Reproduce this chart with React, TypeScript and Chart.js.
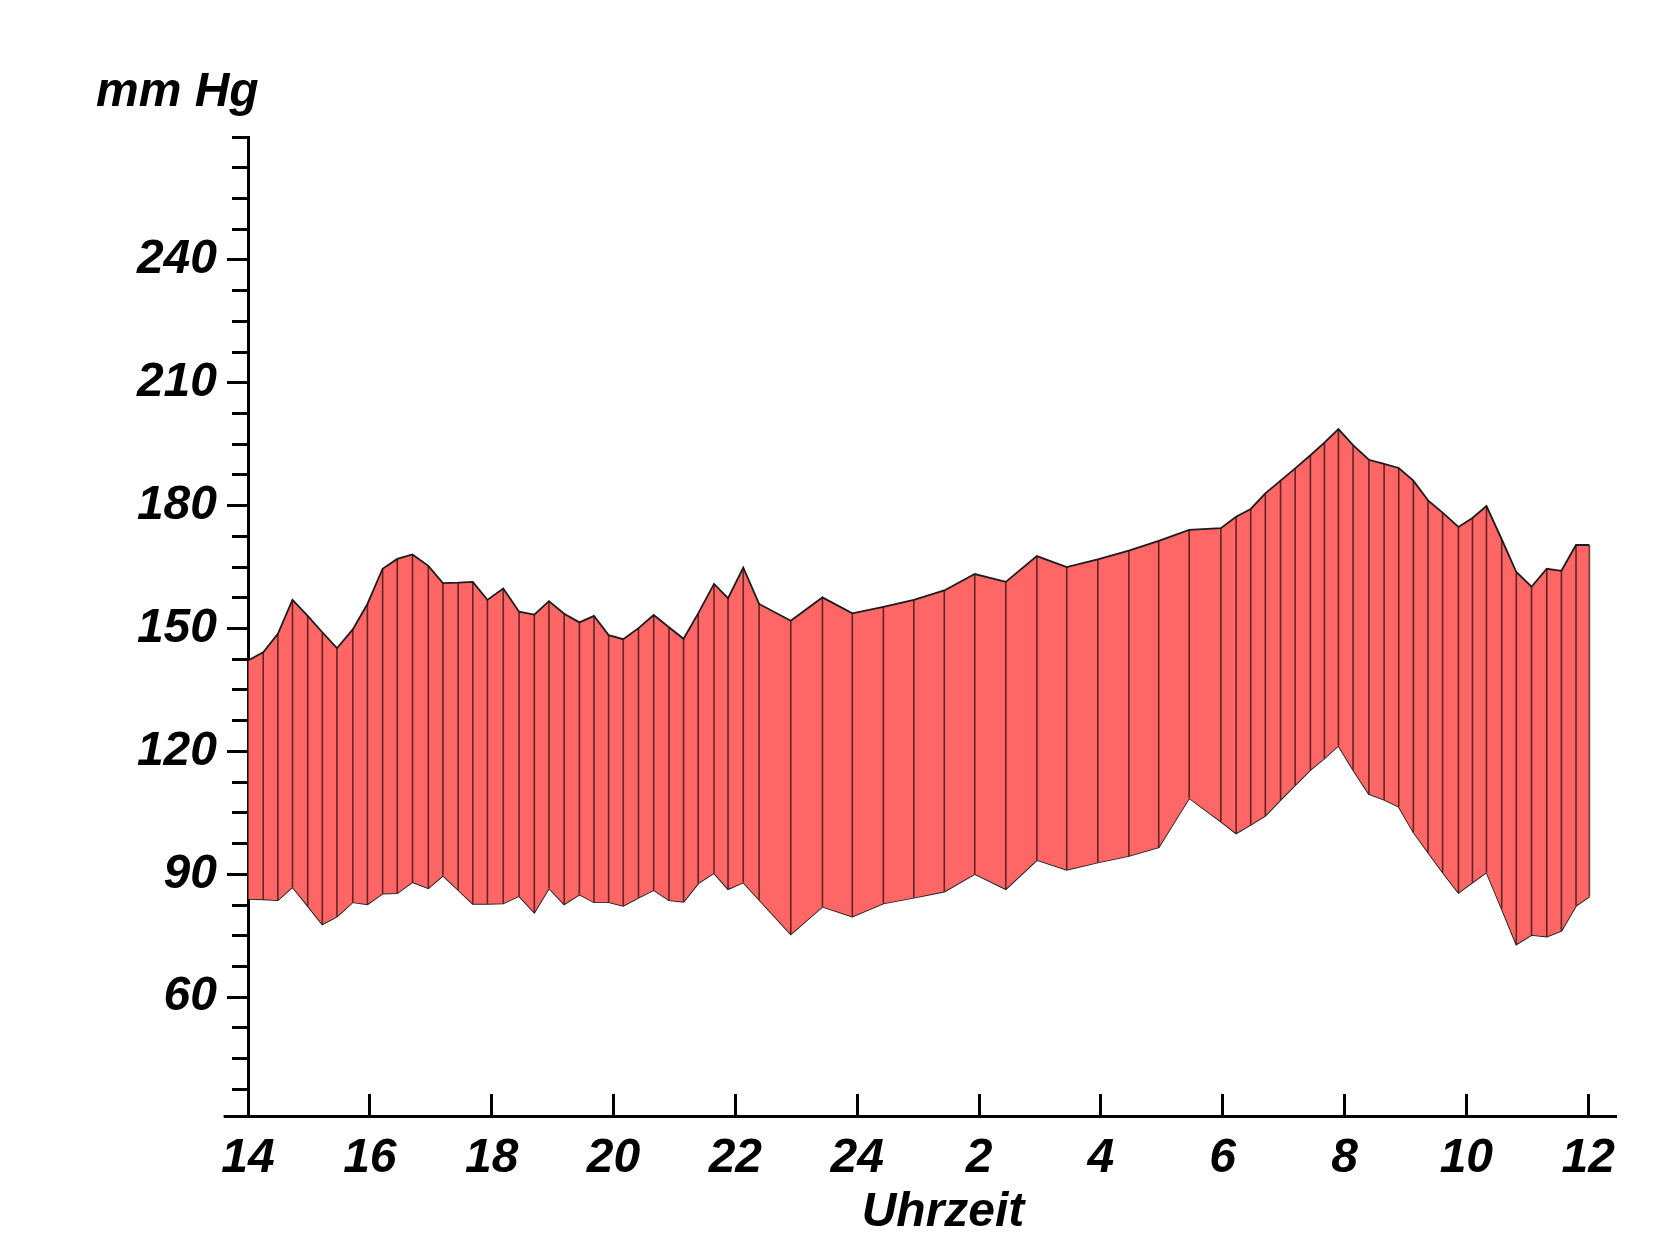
import React, { useEffect, useRef } from 'react';
import { Chart, registerables } from 'chart.js';

Chart.register(...registerables);

// Measurement times (hours since 0:00 of day 1; 24+ = next day)
const times = [
  14.0, 14.25, 14.49, 14.73, 14.98, 15.22, 15.46, 15.72, 15.96, 16.21,
  16.45, 16.7, 16.96, 17.2, 17.45, 17.69, 17.93, 18.19, 18.45, 18.7,
  18.94, 19.19, 19.44, 19.68, 19.92, 20.16, 20.41, 20.66, 20.91, 21.15,
  21.39, 21.65, 21.88, 22.13, 22.39, 22.91, 23.43, 23.92, 24.43, 24.93,
  25.43, 25.93, 26.44, 26.95, 27.44, 27.95, 28.46, 28.95, 29.45, 29.97,
  30.22, 30.46, 30.7, 30.95, 31.19, 31.44, 31.67, 31.9, 32.14, 32.4,
  32.65, 32.89, 33.13, 33.37, 33.61, 33.87, 34.1, 34.33, 34.58, 34.82,
  35.07, 35.32, 35.56, 35.8, 36.02,
];

// Systolic (upper boundary)
const systolic = [
  142.2, 144.2, 148.7, 157.0, 153.1, 149.1, 145.2, 149.8, 156.0, 164.6,
  167.0, 168.1, 165.3, 161.1, 161.2, 161.4, 157.0, 159.8, 154.1, 153.4,
  156.7, 153.6, 151.5, 153.1, 148.4, 147.4, 150.1, 153.3, 150.3, 147.5,
  153.7, 160.9, 157.4, 164.9, 156.0, 151.9, 157.6, 153.7, 155.3, 157.0,
  159.3, 163.3, 161.4, 167.7, 165.0, 166.9, 169.0, 171.4, 174.1, 174.5,
  177.3, 179.2, 183.0, 186.1, 189.1, 192.3, 195.4, 198.7, 194.8, 191.2,
  190.2, 189.2, 186.1, 181.3, 178.3, 174.8, 177.0, 179.9, 171.8, 163.8,
  160.2, 164.6, 164.1, 170.4, 170.4,
];

// Diastolic (lower boundary)
const diastolic = [
  84.0, 83.9, 83.7, 86.9, 82.3, 77.8, 79.7, 83.2, 82.7, 85.3,
  85.4, 88.1, 86.6, 89.7, 86.2, 82.8, 82.8, 82.9, 84.7, 80.7,
  86.6, 82.7, 85.1, 83.2, 83.2, 82.3, 84.3, 86.2, 83.7, 83.3,
  87.8, 90.3, 86.4, 88.0, 83.8, 75.4, 82.1, 79.7, 82.9, 84.3,
  85.8, 90.1, 86.4, 93.5, 91.1, 92.9, 94.5, 96.6, 108.6, 102.9,
  100.0, 102.1, 104.3, 108.2, 111.8, 115.5, 118.3, 121.4, 115.5, 109.6,
  108.2, 106.5, 100.3, 95.4, 90.5, 85.5, 88.0, 90.5, 81.6, 72.9,
  75.2, 74.8, 76.2, 82.3, 84.6,
];

const xTickValues = [14, 16, 18, 20, 22, 24, 26, 28, 30, 32, 34, 36];
const xTickLabels = ['14', '16', '18', '20', '22', '24', '2', '4', '6', '8', '10', '12'];
const yLabelValues = [60, 90, 120, 150, 180, 210, 240];
const yMinorStep = 7.5;

const X_MIN = 14;
const X_MAX = 36.44;
const X_AXIS_START = 13.6;
const Y_MIN = 31;
const Y_MAX = 270;

const yAxisTitle = 'mm Hg';
const xAxisTitle = 'Uhrzeit';

const FONT_FAMILY = 'Liberation Sans';
const FONT_SIZE = 48;
const FILL_COLOR = '#ff6666';
const OUTLINE_COLOR = '#1c1c1c';

const yTickValues: number[] = [];
for (let v = 37.5; v <= Y_MAX + 0.001; v += yMinorStep) yTickValues.push(v);

const tickFont = { family: FONT_FAMILY, size: FONT_SIZE, style: 'italic' as const, weight: 'bold' as const };

function alignPx(p: number, w: number) {
  return Math.round(p - w / 2) + w / 2;
}

const decorPlugin = {
  id: 'bpDecor',
  afterDatasetsDraw(chart: any) {
    const { ctx, scales } = chart;
    const x = scales.x;
    const y = scales.y;
    ctx.save();
    ctx.strokeStyle = 'rgba(45,15,15,0.75)';
    ctx.lineWidth = 1.6;
    for (let i = 0; i < times.length; i++) {
      const px = x.getPixelForValue(times[i]);
      ctx.beginPath();
      ctx.moveTo(px, y.getPixelForValue(systolic[i]));
      ctx.lineTo(px, y.getPixelForValue(diastolic[i]));
      ctx.stroke();
    }
    ctx.restore();
  },
  afterDraw(chart: any) {
    const { ctx, scales } = chart;
    const x = scales.x;
    const y = scales.y;
    ctx.save();
    ctx.strokeStyle = '#000';
    ctx.lineWidth = 3;
    ctx.lineCap = 'butt';
    // x axis line continues a little to the left of the y axis
    const ay = alignPx(x.top, 3);
    ctx.beginPath();
    ctx.moveTo(x.getPixelForValue(X_AXIS_START), ay);
    ctx.lineTo(x.left, ay);
    ctx.stroke();
    // longer ticks at labelled values
    for (const v of yLabelValues) {
      const py = alignPx(y.getPixelForValue(v), 3);
      ctx.beginPath();
      ctx.moveTo(y.right - 21, py);
      ctx.lineTo(y.right - 14, py);
      ctx.stroke();
    }
    // titles
    ctx.fillStyle = '#000';
    ctx.font = `italic bold ${FONT_SIZE}px "${FONT_FAMILY}"`;
    ctx.textBaseline = 'alphabetic';
    ctx.textAlign = 'left';
    ctx.fillText(yAxisTitle, 96, 106);
    ctx.textAlign = 'center';
    ctx.fillText(xAxisTitle, 943, 1226);
    ctx.restore();
  },
};

export default function App() {
  const canvasRef = useRef<HTMLCanvasElement | null>(null);

  useEffect(() => {
    if (!canvasRef.current) return;
    const upper = times.map((t, i) => ({ x: t, y: systolic[i] }));
    const lower = times.map((t, i) => ({ x: t, y: diastolic[i] }));

    const chart = new Chart(canvasRef.current, {
      type: 'line',
      data: {
        datasets: [
          {
            label: 'Systolisch',
            data: upper,
            borderColor: OUTLINE_COLOR,
            borderWidth: 1.8,
            backgroundColor: FILL_COLOR,
            fill: '+1',
            pointRadius: 0,
            tension: 0,
          },
          {
            label: 'Diastolisch',
            data: lower,
            borderColor: OUTLINE_COLOR,
            borderWidth: 1.8,
            backgroundColor: FILL_COLOR,
            fill: false,
            pointRadius: 0,
            tension: 0,
          },
        ],
      },
      options: {
        animation: false,
        responsive: false,
        devicePixelRatio: 1,
        layout: { padding: { top: 137, right: 53, bottom: 0, left: 0 } },
        plugins: {
          legend: { display: false },
          tooltip: { enabled: false },
          title: { display: false },
        },
        scales: {
          x: {
            type: 'linear',
            min: X_MIN,
            max: X_MAX,
            bounds: 'data',
            afterBuildTicks: (s: any) => {
              s.ticks = xTickValues.map((v) => ({ value: v }));
            },
            afterFit: (s: any) => {
              s.height = 124;
            },
            ticks: {
              autoSkip: false,
              maxRotation: 0,
              minRotation: 0,
              padding: 36,
              color: '#000',
              font: tickFont,
              callback: (v: any) => {
                const idx = xTickValues.indexOf(Number(v));
                return idx >= 0 ? xTickLabels[idx] : '';
              },
            },
            grid: {
              display: true,
              drawOnChartArea: false,
              drawTicks: true,
              tickLength: -22,
              tickWidth: 3,
              tickColor: '#000',
              color: '#000',
              lineWidth: 3,
            },
            border: { display: true, color: '#000', width: 3 },
          },
          y: {
            type: 'linear',
            position: 'left',
            min: Y_MIN,
            max: Y_MAX,
            bounds: 'data',
            afterBuildTicks: (s: any) => {
              s.ticks = yTickValues.map((v) => ({ value: v }));
            },
            afterFit: (s: any) => {
              s.width = 248;
            },
            ticks: {
              autoSkip: false,
              padding: 15,
              color: '#000',
              font: tickFont,
              callback: (v: any) => (yLabelValues.includes(Number(v)) ? String(v) : ''),
            },
            grid: {
              display: true,
              drawOnChartArea: false,
              drawTicks: true,
              tickLength: 16,
              tickWidth: 3,
              tickColor: '#000',
              color: '#000',
              lineWidth: 3,
            },
            border: { display: true, color: '#000', width: 3 },
          },
        },
      } as any,
      plugins: [decorPlugin],
    });

    return () => chart.destroy();
  }, []);

  return (
    <div style={{ position: 'absolute', left: 0, top: 0, width: 1668, height: 1240, background: '#fff' }}>
      <canvas ref={canvasRef} width={1668} height={1240} style={{ display: 'block' }} />
    </div>
  );
}
